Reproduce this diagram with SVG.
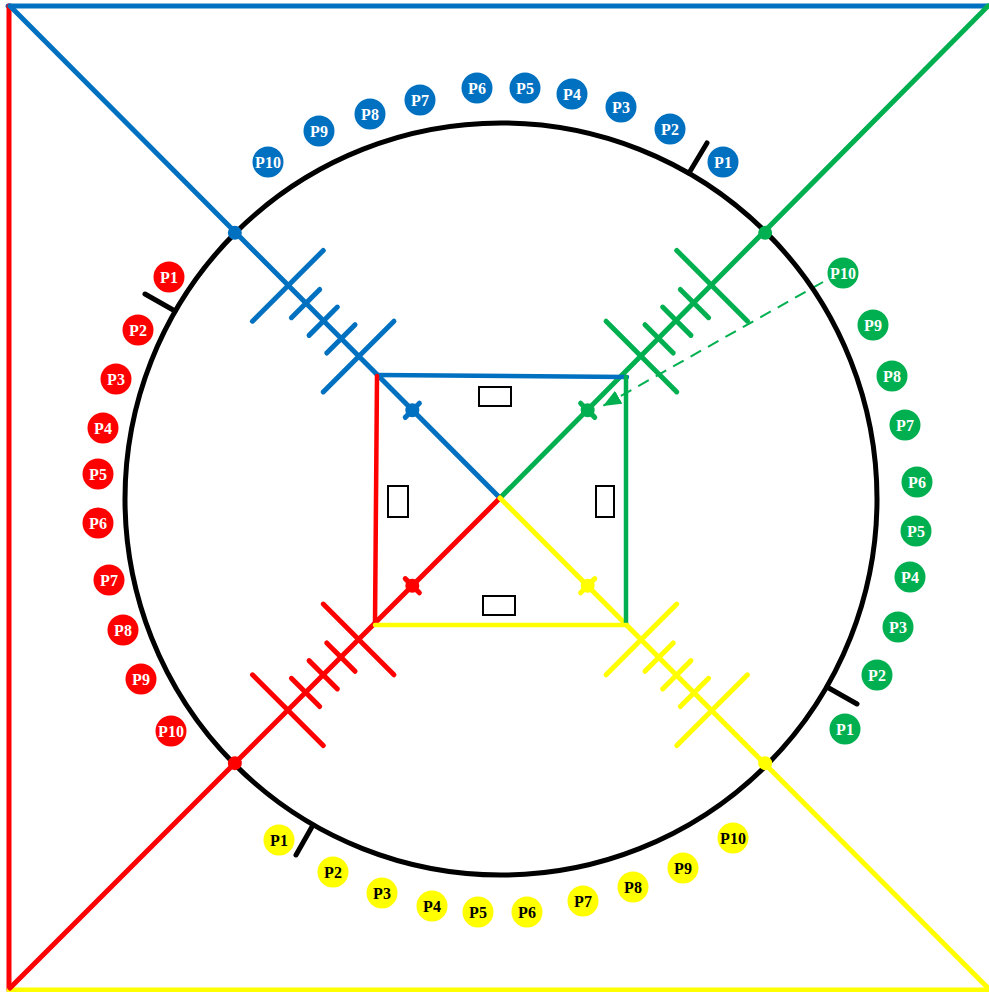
<svg xmlns="http://www.w3.org/2000/svg" width="989" height="992" viewBox="0 0 989 992">
<style>
.ln{fill:none;stroke-width:5;stroke-linecap:round}
.sq{fill:none;stroke-width:4.5;stroke-linecap:round}
.tk{stroke-width:5;stroke-linecap:round}
.blue{stroke:#0070C0}
.red{stroke:#FF0000}
.green{stroke:#00B050}
.yellow{stroke:#FFFF00}
.lbl{font-family:"Liberation Serif","Times New Roman",serif;font-weight:bold;font-size:16px;text-anchor:middle}
.lb circle{fill:#0070C0}.lb text{fill:#FFFFFF}
.lr circle{fill:#FF0000}.lr text{fill:#FFFFFF}
.lg circle{fill:#00B050}.lg text{fill:#FFFFFF}
.ly circle{fill:#FFFF00}.ly text{fill:#000000}
.box{fill:#FFFFFF;stroke:#000000;stroke-width:2}
</style>
<defs>
<marker id="arr" viewBox="0 -8 18 16" refX="18" refY="0" markerWidth="18" markerHeight="16" markerUnits="userSpaceOnUse" orient="auto">
<path d="M0,-7.5 L18,0 L0,7.5 Z" fill="#00B050"/>
</marker>
</defs>
<rect width="989" height="992" fill="#FFFFFF"/>
<g id="connectors">
<line class="ln blue" x1="8" y1="6" x2="989" y2="6"/>
<line class="ln red" x1="9" y1="6" x2="9" y2="990"/>
<line class="ln yellow" x1="9" y1="990" x2="989" y2="990"/>
<line class="ln blue" x1="10" y1="6" x2="500" y2="498"/>
<line class="ln green" x1="988" y1="6" x2="500" y2="498"/>
<line class="ln red" x1="10" y1="988" x2="500" y2="498"/>
<line class="ln yellow" x1="988" y1="988" x2="500" y2="498"/>
<line class="sq blue" x1="377" y1="375" x2="627" y2="377"/>
<line class="sq red" x1="377" y1="376" x2="375" y2="624"/>
<line class="sq green" x1="626" y1="377" x2="626" y2="624"/>
<line class="sq yellow" x1="375" y1="625" x2="627" y2="625"/>
<line stroke="#00B050" stroke-width="2" stroke-dasharray="12 8" x1="823" y1="282" x2="603" y2="406" marker-end="url(#arr)"/>
</g>
<g id="circle">
<circle cx="501" cy="499" r="376" fill="none" stroke="#000000" stroke-width="5"/>
<g stroke="#000000" stroke-width="5" stroke-linecap="round">
<line x1="689" y1="173" x2="707" y2="143"/>
<line x1="827" y1="687" x2="857" y2="704"/>
<line x1="313" y1="825" x2="296" y2="855"/>
<line x1="175" y1="311" x2="145" y2="294"/>
</g>
</g>
<g id="arm-blue" transform="translate(500,498) rotate(225)" class="tk blue" fill="#0070C0">
<line x1="200" y1="-50" x2="200" y2="50"/>
<line x1="225" y1="-20" x2="225" y2="20"/>
<line x1="250" y1="-20" x2="250" y2="20"/>
<line x1="275" y1="-20" x2="275" y2="20"/>
<line x1="300" y1="-50" x2="300" y2="50"/>
<line x1="124" y1="-10" x2="124" y2="10"/>
<circle cx="124" cy="0" r="7" stroke="none"/>
<circle cx="375" cy="0" r="7" stroke="none"/>
</g>
<g id="arm-green" transform="translate(500,498) rotate(-45)" class="tk green" fill="#00B050">
<line x1="200" y1="-50" x2="200" y2="50"/>
<line x1="225" y1="-20" x2="225" y2="20"/>
<line x1="250" y1="-20" x2="250" y2="20"/>
<line x1="275" y1="-20" x2="275" y2="20"/>
<line x1="300" y1="-50" x2="300" y2="50"/>
<line x1="124" y1="-10" x2="124" y2="10"/>
<circle cx="124" cy="0" r="7" stroke="none"/>
<circle cx="375" cy="0" r="7" stroke="none"/>
</g>
<g id="arm-red" transform="translate(500,498) rotate(135)" class="tk red" fill="#FF0000">
<line x1="200" y1="-50" x2="200" y2="50"/>
<line x1="225" y1="-20" x2="225" y2="20"/>
<line x1="250" y1="-20" x2="250" y2="20"/>
<line x1="275" y1="-20" x2="275" y2="20"/>
<line x1="300" y1="-50" x2="300" y2="50"/>
<line x1="124" y1="-10" x2="124" y2="10"/>
<circle cx="124" cy="0" r="7" stroke="none"/>
<circle cx="375" cy="0" r="7" stroke="none"/>
</g>
<g id="arm-yellow" transform="translate(500,498) rotate(45)" class="tk yellow" fill="#FFFF00">
<line x1="200" y1="-50" x2="200" y2="50"/>
<line x1="225" y1="-20" x2="225" y2="20"/>
<line x1="250" y1="-20" x2="250" y2="20"/>
<line x1="275" y1="-20" x2="275" y2="20"/>
<line x1="300" y1="-50" x2="300" y2="50"/>
<line x1="124" y1="-10" x2="124" y2="10"/>
<circle cx="124" cy="0" r="7" stroke="none"/>
<circle cx="375" cy="0" r="7" stroke="none"/>
</g>
<g id="boxes">
<rect id="box-top" class="box" x="479" y="387" width="32" height="19"/>
<rect id="box-left" class="box" x="388" y="486" width="20" height="31"/>
<rect id="box-right" class="box" x="596" y="486" width="18" height="31"/>
<rect id="box-bottom" class="box" x="483" y="596" width="32" height="19"/>
</g>
<g id="labels-blue" class="lb">
<g id="b-p1"><circle cx="723" cy="162" r="15.5"/><text class="lbl" x="723" y="167.5">P1</text></g>
<g id="b-p2"><circle cx="670" cy="129" r="15.5"/><text class="lbl" x="670" y="134.5">P2</text></g>
<g id="b-p3"><circle cx="621" cy="107" r="15.5"/><text class="lbl" x="621" y="112.5">P3</text></g>
<g id="b-p4"><circle cx="572" cy="94" r="15.5"/><text class="lbl" x="572" y="99.5">P4</text></g>
<g id="b-p5"><circle cx="525" cy="88" r="15.5"/><text class="lbl" x="525" y="93.5">P5</text></g>
<g id="b-p6"><circle cx="477" cy="88" r="15.5"/><text class="lbl" x="477" y="93.5">P6</text></g>
<g id="b-p7"><circle cx="420" cy="100" r="15.5"/><text class="lbl" x="420" y="105.5">P7</text></g>
<g id="b-p8"><circle cx="370" cy="114" r="15.5"/><text class="lbl" x="370" y="119.5">P8</text></g>
<g id="b-p9"><circle cx="319" cy="131" r="15.5"/><text class="lbl" x="319" y="136.5">P9</text></g>
<g id="b-p10"><circle cx="268" cy="162" r="15.5"/><text class="lbl" x="268" y="167.5">P10</text></g>
</g>
<g id="labels-red" class="lr">
<g id="r-p1"><circle cx="169" cy="277" r="15.5"/><text class="lbl" x="169" y="282.5">P1</text></g>
<g id="r-p2"><circle cx="138" cy="330" r="15.5"/><text class="lbl" x="138" y="335.5">P2</text></g>
<g id="r-p3"><circle cx="116" cy="379" r="15.5"/><text class="lbl" x="116" y="384.5">P3</text></g>
<g id="r-p4"><circle cx="103" cy="428" r="15.5"/><text class="lbl" x="103" y="433.5">P4</text></g>
<g id="r-p5"><circle cx="98" cy="474" r="15.5"/><text class="lbl" x="98" y="479.5">P5</text></g>
<g id="r-p6"><circle cx="98" cy="523" r="15.5"/><text class="lbl" x="98" y="528.5">P6</text></g>
<g id="r-p7"><circle cx="109" cy="580" r="15.5"/><text class="lbl" x="109" y="585.5">P7</text></g>
<g id="r-p8"><circle cx="123" cy="630" r="15.5"/><text class="lbl" x="123" y="635.5">P8</text></g>
<g id="r-p9"><circle cx="141" cy="679" r="15.5"/><text class="lbl" x="141" y="684.5">P9</text></g>
<g id="r-p10"><circle cx="171" cy="731" r="15.5"/><text class="lbl" x="171" y="736.5">P10</text></g>
</g>
<g id="labels-green" class="lg">
<g id="g-p1"><circle cx="845" cy="729" r="15.5"/><text class="lbl" x="845" y="734.5">P1</text></g>
<g id="g-p2"><circle cx="877" cy="675" r="15.5"/><text class="lbl" x="877" y="680.5">P2</text></g>
<g id="g-p3"><circle cx="898" cy="627" r="15.5"/><text class="lbl" x="898" y="632.5">P3</text></g>
<g id="g-p4"><circle cx="910" cy="577" r="15.5"/><text class="lbl" x="910" y="582.5">P4</text></g>
<g id="g-p5"><circle cx="916" cy="531" r="15.5"/><text class="lbl" x="916" y="536.5">P5</text></g>
<g id="g-p6"><circle cx="917" cy="482" r="15.5"/><text class="lbl" x="917" y="487.5">P6</text></g>
<g id="g-p7"><circle cx="905" cy="425" r="15.5"/><text class="lbl" x="905" y="430.5">P7</text></g>
<g id="g-p8"><circle cx="892" cy="376" r="15.5"/><text class="lbl" x="892" y="381.5">P8</text></g>
<g id="g-p9"><circle cx="873" cy="325" r="15.5"/><text class="lbl" x="873" y="330.5">P9</text></g>
<g id="g-p10"><circle cx="843" cy="273" r="15.5"/><text class="lbl" x="843" y="278.5">P10</text></g>
</g>
<g id="labels-yellow" class="ly">
<g id="y-p1"><circle cx="279" cy="840" r="15.5"/><text class="lbl" x="279" y="845.5">P1</text></g>
<g id="y-p2"><circle cx="333" cy="872" r="15.5"/><text class="lbl" x="333" y="877.5">P2</text></g>
<g id="y-p3"><circle cx="382" cy="893" r="15.5"/><text class="lbl" x="382" y="898.5">P3</text></g>
<g id="y-p4"><circle cx="432" cy="906" r="15.5"/><text class="lbl" x="432" y="911.5">P4</text></g>
<g id="y-p5"><circle cx="478" cy="912" r="15.5"/><text class="lbl" x="478" y="917.5">P5</text></g>
<g id="y-p6"><circle cx="527" cy="912" r="15.5"/><text class="lbl" x="527" y="917.5">P6</text></g>
<g id="y-p7"><circle cx="583" cy="901" r="15.5"/><text class="lbl" x="583" y="906.5">P7</text></g>
<g id="y-p8"><circle cx="633" cy="887" r="15.5"/><text class="lbl" x="633" y="892.5">P8</text></g>
<g id="y-p9"><circle cx="683" cy="868" r="15.5"/><text class="lbl" x="683" y="873.5">P9</text></g>
<g id="y-p10"><circle cx="733" cy="838" r="15.5"/><text class="lbl" x="733" y="843.5">P10</text></g>
</g>
</svg>
